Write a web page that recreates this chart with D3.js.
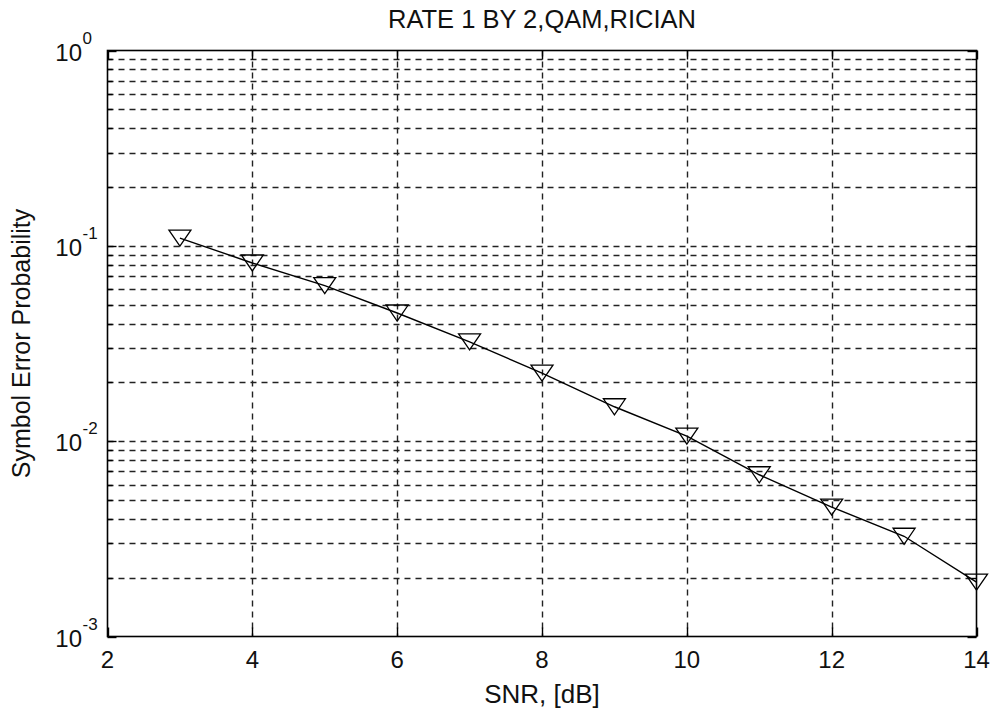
<!DOCTYPE html>
<html>
<head>
<meta charset="utf-8">
<script src="https://cdn.jsdelivr.net/npm/d3@7"></script>
<style>
  body { margin: 0; background: #fff; }
  svg { display: block; }
  text { font-family: "Liberation Sans", Arial, Helvetica, sans-serif; fill: #111; }
</style>
</head>
<body>
<svg id="chart" width="991" height="710"></svg>
<script>
// Symbol error probability vs SNR (rate 1/2, QAM, Rician channel)
const snr = [3, 4, 5, 6, 7, 8, 9, 10, 11, 12, 13, 14];
const ser = [0.1096, 0.0817, 0.0625, 0.0453, 0.0322, 0.0223, 0.0150, 0.0106, 0.00673, 0.00460, 0.00326, 0.00190];
const xTicks = [2, 4, 6, 8, 10, 12, 14];
const yTicks = [1, 1e-1, 1e-2, 1e-3];
const yExponents = ["0", "-1", "-2", "-3"];
const titleText = "RATE 1 BY 2,QAM,RICIAN";
const xLabelText = "SNR, [dB]";
const yLabelText = "Symbol Error Probability";

const svg = d3.select("#chart");
const box = { left: 107.5, right: 976.5, top: 50.5, bottom: 636.5 };

const x = d3.scaleLinear().domain([2, 14]).range([box.left, box.right]);
const y = d3.scaleLog().domain([1e-3, 1]).range([box.bottom, box.top]);

// minor log positions 2..9 within each decade
const minorY = [];
[1e-3, 1e-2, 1e-1].forEach(d => { for (let m = 2; m <= 9; m++) minorY.push(m * d); });

const grid = svg.append("g").attr("stroke", "#222").attr("stroke-width", 1.4)
  .attr("stroke-dasharray", "6,5").attr("fill", "none");

// horizontal grid: minor + interior majors
grid.selectAll("line.h").data(minorY.concat([1e-1, 1e-2])).join("line")
  .attr("x1", box.left).attr("x2", box.right)
  .attr("y1", d => Math.round(y(d)) + 0.5).attr("y2", d => Math.round(y(d)) + 0.5);

// vertical grid at interior x ticks
grid.selectAll("line.v").data(xTicks.slice(1, -1)).join("line")
  .attr("y1", box.top).attr("y2", box.bottom)
  .attr("x1", d => Math.round(x(d)) + 0.5).attr("x2", d => Math.round(x(d)) + 0.5);

// inward ticks on all four sides
const ticks = svg.append("g").attr("stroke", "#000").attr("stroke-width", 1.4);
const major = 9, minor = 5;
xTicks.forEach(t => {
  const px = Math.round(x(t)) + 0.5;
  ticks.append("line").attr("x1", px).attr("x2", px).attr("y1", box.bottom).attr("y2", box.bottom - major);
  ticks.append("line").attr("x1", px).attr("x2", px).attr("y1", box.top).attr("y2", box.top + major);
});
yTicks.forEach(t => {
  const py = Math.round(y(t)) + 0.5;
  ticks.append("line").attr("x1", box.left).attr("x2", box.left + major).attr("y1", py).attr("y2", py);
  ticks.append("line").attr("x1", box.right).attr("x2", box.right - major).attr("y1", py).attr("y2", py);
});
minorY.forEach(t => {
  const py = Math.round(y(t)) + 0.5;
  ticks.append("line").attr("x1", box.left).attr("x2", box.left + minor).attr("y1", py).attr("y2", py);
  ticks.append("line").attr("x1", box.right).attr("x2", box.right - minor).attr("y1", py).attr("y2", py);
});

// axes frame
svg.append("rect")
  .attr("x", box.left).attr("y", box.top)
  .attr("width", box.right - box.left).attr("height", box.bottom - box.top)
  .attr("fill", "none").attr("stroke", "#000").attr("stroke-width", 1.6);

// x tick labels
svg.append("g").selectAll("text").data(xTicks).join("text")
  .attr("x", d => x(d)).attr("y", box.bottom + 31)
  .attr("text-anchor", "middle").attr("font-size", 24)
  .text(d => d);

// y tick labels: 10 with superscript exponent
const yl = svg.append("g");
yTicks.forEach((t, i) => {
  const py = y(t);
  yl.append("text").attr("x", 82).attr("y", py + 10)
    .attr("text-anchor", "end").attr("font-size", 24).text("10");
  yl.append("text").attr("x", 82.5).attr("y", py - 7)
    .attr("text-anchor", "start").attr("font-size", 17).text(yExponents[i]);
});

// data line and markers
const line = d3.line().x(d => x(d[0])).y(d => y(d[1]));
const pts = snr.map((s, i) => [s, ser[i]]);
svg.append("path").datum(pts).attr("d", line)
  .attr("fill", "none").attr("stroke", "#000").attr("stroke-width", 1.4);

svg.append("g").selectAll("path").data(pts).join("path")
  .attr("transform", d => `translate(${x(d[0])},${y(d[1])})`)
  .attr("d", "M-11,-8L11,-8L0,8Z")
  .attr("fill", "none").attr("stroke", "#000").attr("stroke-width", 1.3);

// title and axis labels
svg.append("text").attr("x", (box.left + box.right) / 2).attr("y", 28)
  .attr("text-anchor", "middle").attr("font-size", 25.5).text(titleText);
svg.append("text").attr("x", (box.left + box.right) / 2).attr("y", 703)
  .attr("text-anchor", "middle").attr("font-size", 26).text(xLabelText);
svg.append("text")
  .attr("transform", `translate(30,${(box.top + box.bottom) / 2}) rotate(-90)`)
  .attr("text-anchor", "middle").attr("font-size", 25).text(yLabelText);
</script>
</body>
</html>
